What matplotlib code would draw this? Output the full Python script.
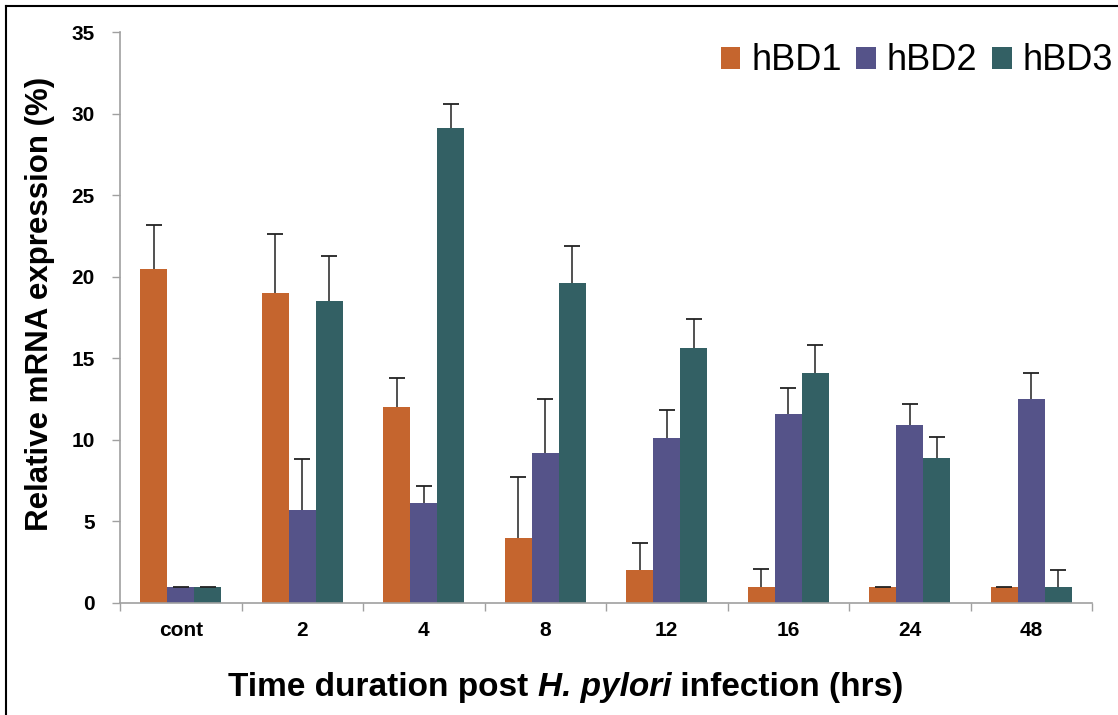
import matplotlib
matplotlib.use("Agg")
import matplotlib.pyplot as plt
import numpy as np
from matplotlib.lines import Line2D

categories = ["cont", "2", "4", "8", "12", "16", "24", "48"]
series_names = ["hBD1", "hBD2", "hBD3"]
hbd1 = [20.5, 19.0, 12.0, 4.0, 2.0, 1.0, 1.0, 1.0]
hbd2 = [1.0, 5.7, 6.1, 9.2, 10.1, 11.6, 10.9, 12.5]
hbd3 = [1.0, 18.5, 29.1, 19.6, 15.6, 14.1, 8.9, 1.0]
hbd1_err = [2.7, 3.6, 1.8, 3.7, 1.7, 1.1, 0.0, 0.0]
hbd2_err = [0.0, 3.1, 1.1, 3.3, 1.7, 1.6, 1.3, 1.6]
hbd3_err = [0.0, 2.8, 1.5, 2.3, 1.8, 1.7, 1.3, 1.0]
colors = ["#C5652E", "#555389", "#336064"]
y_ticks = [0, 5, 10, 15, 20, 25, 30, 35]
xlabel_parts = ["Time duration post ", "H. pylori", " infection (hrs)"]
xlabel_styles = ["normal", "italic", "normal"]

plt.rcParams['font.family'] = ['Liberation Sans', 'DejaVu Sans']

fig = plt.figure(figsize=(11.18, 7.15), dpi=100)
ax = fig.add_axes([120/1118, 1-603/715, (1092-120)/1118, (603-32)/715])

n = len(categories)
x = np.arange(n)
w = 0.222
values = [hbd1, hbd2, hbd3]
errs = [hbd1_err, hbd2_err, hbd3_err]
for i, (v, e, c, name) in enumerate(zip(values, errs, colors, series_names)):
    pos = x + (i - 1) * w
    v = np.array(v)
    e = np.array(e)
    ax.bar(pos, v, width=w, color=c, label=name, zorder=2)
    ax.errorbar(pos, v, yerr=[np.zeros(n), e], fmt='none', ecolor='#222222',
                elinewidth=1.1, capsize=0, zorder=3)
    ax.plot(pos, v + e, linestyle='none', marker='_', markersize=11,
            markeredgewidth=1.3, color='#222222', zorder=3)

ax.set_xlim(-0.5, n - 0.5)
ax.set_ylim(0, 35)
ax.set_yticks(y_ticks)
ax.set_yticklabels([str(t) for t in y_ticks], fontsize=15, fontweight='bold')
ax.set_xticks(x)
ax.set_xticklabels(categories, fontsize=15, fontweight='bold')
ax.tick_params(axis='x', which='major', length=0, pad=13)
ax.set_xticks(np.arange(n + 1) - 0.5, minor=True)
ax.tick_params(axis='x', which='minor', length=6, color='#A0A0A0', width=1)
ax.tick_params(axis='y', length=6, color='#A0A0A0', width=1, pad=12)

for s in ['top', 'right']:
    ax.spines[s].set_visible(False)
for s in ['left', 'bottom']:
    ax.spines[s].set_color('#A0A0A0')
    ax.spines[s].set_linewidth(1.2)

ax.set_ylabel("Relative mRNA expression (%)", fontsize=22.5, fontweight='bold',
              va='center', ha='center')
ax.yaxis.set_label_coords(40/1118, 1-304/715, transform=fig.transFigure)

# x label built from pieces (italic species name), centred at x=566 px
renderer = fig.canvas.get_renderer()
texts = []
for part, style in zip(xlabel_parts, xlabel_styles):
    t = fig.text(0, 1-684/715, part, fontsize=24, fontweight='bold', fontstyle=style,
                 ha='left', va='center_baseline')
    texts.append(t)
widths = [t.get_window_extent(renderer).width for t in texts]
total = sum(widths)
start = 566 - total / 2
for t, wd in zip(texts, widths):
    t.set_x(start / 1118)
    start += wd

leg = fig.legend(loc='center right', bbox_to_anchor=(1113/1118, 1-61/715), ncol=3,
                 frameon=False, fontsize=26, handlelength=0.55, handleheight=0.55,
                 handletextpad=0.3, columnspacing=0.4, borderaxespad=0, borderpad=0)

# figure border (top and left)
fig.add_artist(Line2D([6/1118, 1], [1-6/715, 1-6/715], color='black', lw=1.5, transform=fig.transFigure))
fig.add_artist(Line2D([6/1118, 6/1118], [0, 1-6/715], color='black', lw=1.5, transform=fig.transFigure))

fig.savefig("out.png", dpi=100)
